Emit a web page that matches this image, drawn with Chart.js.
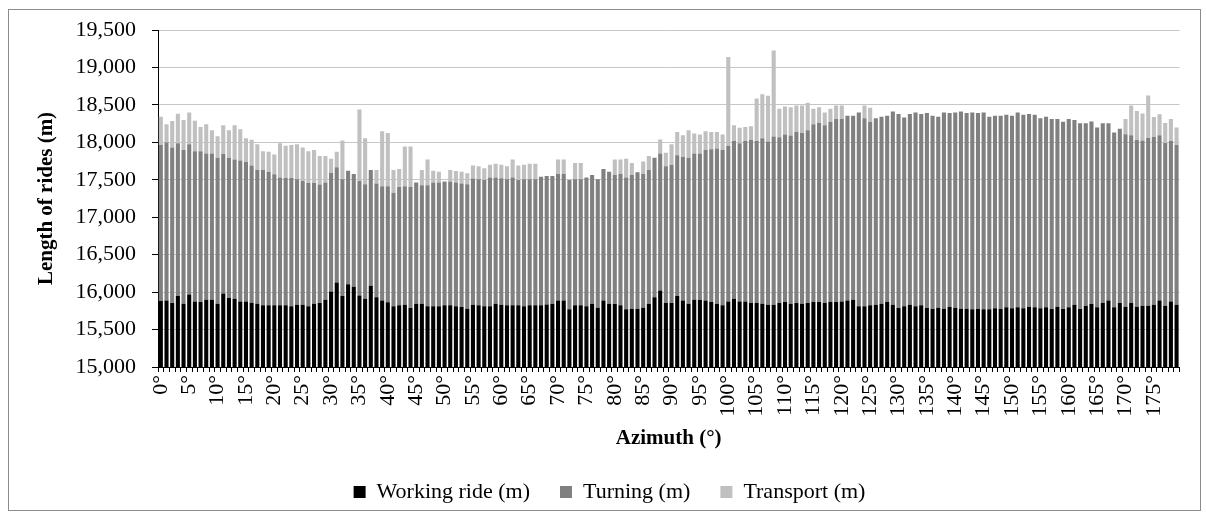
<!DOCTYPE html>
<html>
<head>
<meta charset="utf-8">
<script src="https://cdn.jsdelivr.net/npm/chart.js@4/dist/chart.umd.min.js"></script>
<style>
  html, body { margin: 0; padding: 0; background: #fff; }
  #wrap { position: relative; width: 1206px; height: 516px; }
  #chart { position: absolute; left: 0; top: 0; }
  #frame {
    position: absolute; left: 8px; top: 9px; width: 1191px; height: 500px;
    border: 1px solid #8c8c8c; pointer-events: none;
  }
</style>
</head>
<body>
<div id="wrap">
  <canvas id="chart" width="1206" height="516"></canvas>
  <div id="frame"></div>
</div>
<script>
// ============================================================
// Data
// ============================================================

// azimuth categories 0° .. 179°
const azimuths = Array.from({ length: 180 }, (_, i) => i + '°');

const workingRide = [
  15880, 15889, 15854, 15947, 15845, 15969, 15876, 15867, 15898, 15898,
  15845, 15982, 15920, 15911, 15876, 15876, 15858, 15845, 15823, 15823,
  15823, 15823, 15823, 15810, 15832, 15832, 15810, 15845, 15854, 15898,
  16008, 16128, 15947, 16106, 16070, 15956, 15911, 16084, 15933, 15889,
  15863, 15810, 15823, 15832, 15788, 15845, 15845, 15810, 15810, 15810,
  15823, 15823, 15810, 15801, 15779, 15832, 15823, 15810, 15810, 15845,
  15832, 15823, 15823, 15823, 15810, 15823, 15823, 15823, 15836, 15845,
  15889, 15889, 15770, 15823, 15823, 15810, 15845, 15792, 15889, 15845,
  15841, 15823, 15770, 15779, 15779, 15792, 15845, 15933, 16022, 15854,
  15854, 15947, 15889, 15845, 15898, 15898, 15889, 15867, 15845, 15823,
  15876, 15911, 15876, 15876, 15854, 15854, 15845, 15832, 15832, 15854,
  15867, 15845, 15854, 15845, 15854, 15867, 15867, 15854, 15867, 15867,
  15876, 15889, 15898, 15810, 15810, 15823, 15832, 15845, 15867, 15832,
  15788, 15810, 15832, 15810, 15823, 15788, 15779, 15792, 15779, 15801,
  15792, 15779, 15779, 15770, 15779, 15770, 15770, 15783, 15775, 15797,
  15783, 15797, 15783, 15806, 15797, 15783, 15797, 15775, 15806, 15775,
  15797, 15832, 15775, 15819, 15841, 15797, 15854, 15889, 15797, 15854,
  15806, 15854, 15806, 15819, 15819, 15832, 15889, 15819, 15876, 15832
];

const turning = [
  2086, 2108, 2077, 2042, 2051, 2006, 2006, 2015, 1954, 1954,
  1949, 1861, 1874, 1861, 1883, 1861, 1834, 1786, 1808, 1785,
  1750, 1706, 1701, 1714, 1675, 1653, 1648, 1613, 1582, 1565,
  1583, 1538, 1560, 1516, 1507, 1529, 1529, 1547, 1516, 1525,
  1551, 1516, 1582, 1582, 1617, 1618, 1582, 1617, 1653, 1653,
  1653, 1653, 1653, 1648, 1661, 1684, 1684, 1688, 1719, 1684,
  1688, 1684, 1706, 1675, 1697, 1684, 1684, 1719, 1715, 1706,
  1688, 1688, 1728, 1684, 1684, 1719, 1719, 1715, 1755, 1763,
  1723, 1754, 1759, 1785, 1821, 1785, 1786, 1861, 1830, 1825,
  1847, 1882, 1918, 1949, 1954, 1954, 2007, 2042, 2073, 2073,
  2077, 2108, 2113, 2143, 2179, 2165, 2210, 2179, 2245, 2214,
  2236, 2245, 2285, 2281, 2307, 2373, 2396, 2373, 2409, 2444,
  2435, 2466, 2457, 2590, 2510, 2453, 2488, 2497, 2488, 2581,
  2590, 2523, 2546, 2590, 2555, 2603, 2576, 2550, 2621, 2590,
  2608, 2634, 2612, 2630, 2612, 2630, 2572, 2572, 2580, 2572,
  2572, 2603, 2586, 2572, 2572, 2537, 2545, 2536, 2505, 2501,
  2514, 2466, 2479, 2435, 2436, 2400, 2401, 2366, 2333, 2329,
  2302, 2240, 2226, 2204, 2239, 2240, 2205, 2173, 2142, 2133
];

const transport = [
  376, 243, 354, 393, 402, 425, 407, 323, 388, 309,
  287, 384, 367, 455, 415, 318, 341, 344, 251, 266,
  265, 460, 429, 442, 468, 446, 424, 438, 380, 353,
  190, 208, 517, 0, 0, 954, 615, 0, 182, 734,
  712, 305, 239, 530, 539, 0, 204, 345, 159, 145,
  0, 155, 154, 159, 146, 176, 172, 155, 172, 186,
  181, 172, 243, 194, 194, 208, 208, 0, 0, 0,
  195, 195, 0, 216, 216, 0, 0, 0, 0, 0,
  208, 195, 252, 159, 0, 168, 185, 0, 185, 181,
  274, 310, 288, 367, 265, 251, 252, 230, 221, 207,
  1185, 208, 207, 186, 181, 566, 588, 610, 1149, 380,
  376, 380, 353, 366, 367, 208, 207, 173, 172, 181,
  181, 0, 0, 0, 172, 185, 0, 0, 0, 0,
  0, 0, 0, 0, 0, 0, 0, 0, 0, 0,
  0, 0, 0, 0, 0, 0, 0, 0, 0, 0,
  0, 0, 0, 0, 0, 0, 0, 0, 0, 0,
  0, 0, 0, 0, 0, 0, 0, 0, 0, 0,
  205, 397, 388, 361, 567, 267, 281, 267, 295, 232
];

// ============================================================
// Chart
// ============================================================

const SERIF = '"Liberation Serif", "Times New Roman", serif';
Chart.defaults.font.family = SERIF;
Chart.defaults.color = '#000';

function barSet(label, data, color) {
  return {
    label: label,
    data: data,
    backgroundColor: color,
    borderWidth: 0,
    categoryPercentage: 1.0,
    barPercentage: 0.72
  };
}

// nudge the legend a little to the right, as in the original
const legendShift = {
  id: 'legendShift',
  afterLayout(chart) {
    chart.legend.left += 12;
    chart.legend.right += 12;
  }
};

new Chart(document.getElementById('chart').getContext('2d'), {
  type: 'bar',
  data: {
    labels: azimuths,
    datasets: [
      barSet('Working ride (m)', workingRide, '#000000'),
      barSet('Turning (m)', turning, '#808080'),
      barSet('Transport (m)', transport, '#c0c0c0')
    ]
  },
  plugins: [legendShift],
  options: {
    responsive: false,
    animation: false,
    devicePixelRatio: 1,
    layout: { padding: { top: 30, right: 11, bottom: 3, left: 0 } },
    scales: {
      x: {
        stacked: true,
        grid: {
          drawOnChartArea: false,
          drawTicks: true,
          tickLength: 5,
          tickColor: '#000'
        },
        border: { color: '#000', width: 1 },
        ticks: {
          autoSkip: false,
          minRotation: 90,
          maxRotation: 90,
          padding: 3,
          font: { size: 22 },
          callback: function (val, idx) {
            return idx % 5 === 0 ? azimuths[idx] : '';
          }
        },
        title: {
          display: true,
          text: 'Azimuth (°)',
          font: { size: 21, weight: 'bold' },
          padding: { top: 0, bottom: 0 }
        },
        afterFit: function (scale) { scale.height = 84; }
      },
      y: {
        stacked: true,
        min: 15000,
        max: 19500,
        grid: {
          color: '#c6c6c6',
          tickColor: '#000',
          tickLength: 6
        },
        border: { color: '#000', width: 1 },
        ticks: {
          stepSize: 500,
          padding: 16,
          font: { size: 22 },
          callback: function (v) { return v.toLocaleString('en-US'); }
        },
        title: {
          display: true,
          text: 'Length of rides (m)',
          font: { size: 21, weight: 'bold' },
          padding: { top: 34, bottom: 0 }
        },
        afterFit: function (scale) { scale.width = 158; }
      }
    },
    plugins: {
      legend: {
        position: 'bottom',
        labels: {
          boxWidth: 12,
          boxHeight: 12,
          padding: 30,
          font: { size: 22 },
          color: '#000'
        }
      },
      tooltip: { enabled: false }
    }
  }
});
</script>
</body>
</html>
